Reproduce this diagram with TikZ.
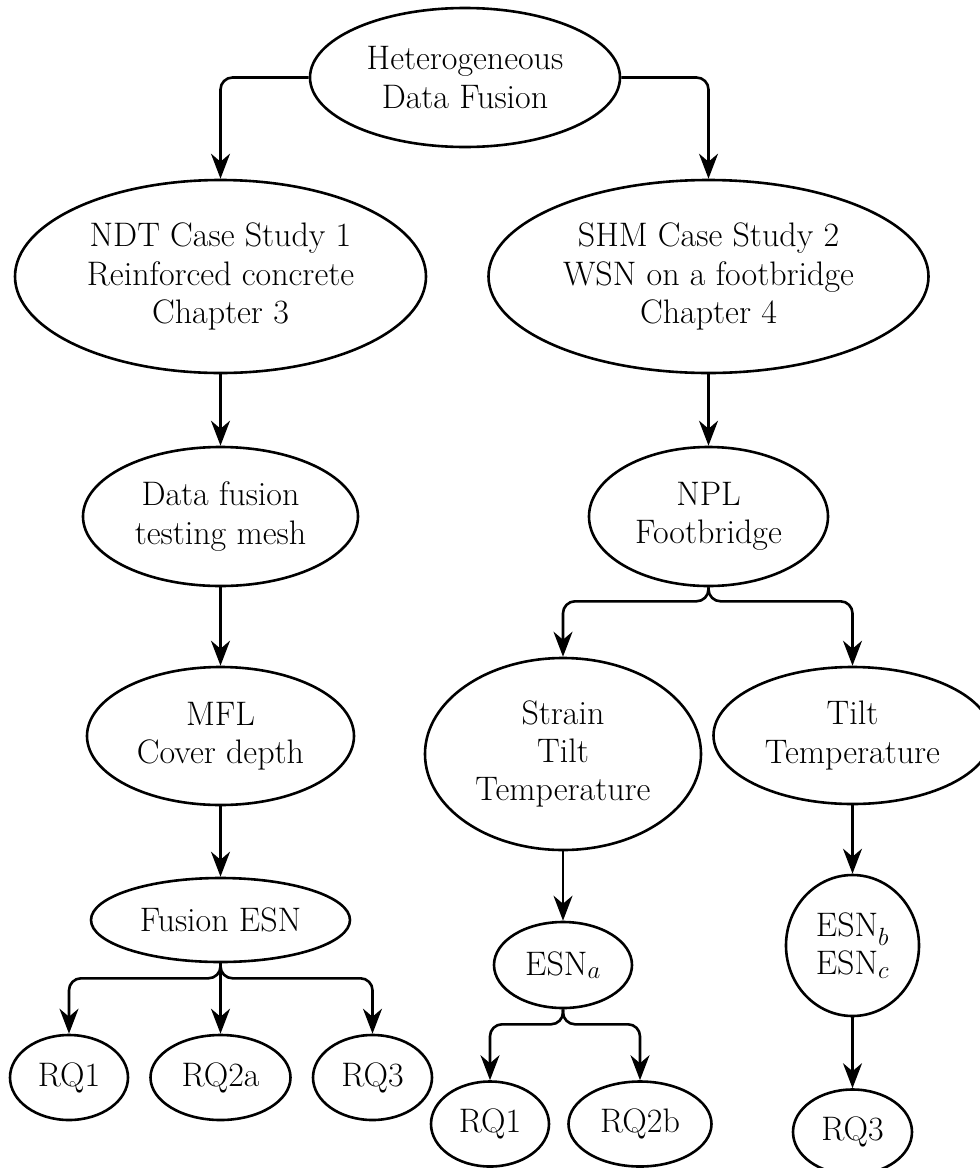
\documentclass[tikz,border=0pt]{standalone}
\usetikzlibrary{shapes.geometric,arrows.meta}
\begin{document}
\begin{tikzpicture}[x=1pt,y=-1pt,
  bub/.style={draw,ellipse,line width=2.6pt,inner sep=0pt,align=center,
    font=\fontsize{34pt}{38.3pt}\selectfont},
  arr/.style={line width=2.6pt,-{Stealth[length=25pt,width=19pt,inset=8pt]}},
  fork/.style={arr,rounded corners=12pt}]
\useasboundingbox (0,0) rectangle (980,1168);
\node[bub,minimum width=310pt,minimum height=139pt] (root) at (465,77.5) {Heterogeneous\\Data Fusion};
\node[bub,minimum width=411pt,minimum height=193pt] (ndt) at (220.5,276.5) {NDT Case Study 1\\Reinforced concrete\\Chapter 3};
\node[bub,minimum width=440pt,minimum height=193pt] (shm) at (708.5,276.5) {SHM Case Study 2\\WSN on a footbridge\\Chapter 4};
\node[bub,minimum width=275pt,minimum height=139pt] (dfm) at (220.5,516.5) {Data fusion\\testing mesh};
\node[bub,minimum width=239pt,minimum height=139pt] (npl) at (708.5,516.5) {NPL\\Footbridge};
\node[bub,minimum width=267pt,minimum height=138pt] (mfl) at (220.5,736) {MFL\\Cover depth};
\node[bub,minimum width=276pt,minimum height=192pt] (stt) at (563,754) {Strain\\Tilt\\Temperature};
\node[bub,minimum width=278pt,minimum height=137pt] (tt) at (852.5,735.5) {Tilt\\Temperature};
\node[bub,minimum width=259pt,minimum height=84pt] (fesn) at (220.5,920) {Fusion ESN};
\node[bub,minimum width=138pt,minimum height=86pt] (esna) at (563,965) {ESN$_a$};
\node[bub,minimum width=133pt,minimum height=141pt] (esnbc) at (852.5,945.5) {ESN$_b$\\ESN$_c$};
\node[bub,minimum width=118pt,minimum height=85pt] (rqa1) at (69,1077.5) {RQ1};
\node[bub,minimum width=140pt,minimum height=85pt] (rqa2) at (220.5,1077.5) {RQ2a};
\node[bub,minimum width=119pt,minimum height=85pt] (rqa3) at (372.5,1077.5) {RQ3};
\node[bub,minimum width=118pt,minimum height=85pt] (rqb1) at (490,1124) {RQ1};
\node[bub,minimum width=143pt,minimum height=85pt] (rqb2) at (640,1124) {RQ2b};
\node[bub,minimum width=119pt,minimum height=85pt] (rqc3) at (852.5,1132) {RQ3};
\draw[fork] (root.west) -| (ndt.north);
\draw[fork] (root.east) -| (shm.north);
\draw[arr] (ndt.south) -- (dfm.north);
\draw[arr] (shm.south) -- (npl.north);
\draw[arr] (dfm.south) -- (mfl.north);
\draw[fork] (npl.south) -- ++(0,14) -| (stt.north);
\draw[fork] (npl.south) -- ++(0,14) -| (tt.north);
\draw[arr] (mfl.south) -- (fesn.north);
\draw[arr] (stt.south) -- (esna.north);
\draw[arr] (tt.south) -- (esnbc.north);
\draw[fork] (fesn.south) -- ++(0,15) -| (rqa1.north);
\draw[arr] (fesn.south) -- (rqa2.north);
\draw[fork] (fesn.south) -- ++(0,15) -| (rqa3.north);
\draw[fork] (esna.south) -- ++(0,15) -| (rqb1.north);
\draw[fork] (esna.south) -- ++(0,15) -| (rqb2.north);
\draw[arr] (esnbc.south) -- (rqc3.north);
\end{tikzpicture}
\end{document}
